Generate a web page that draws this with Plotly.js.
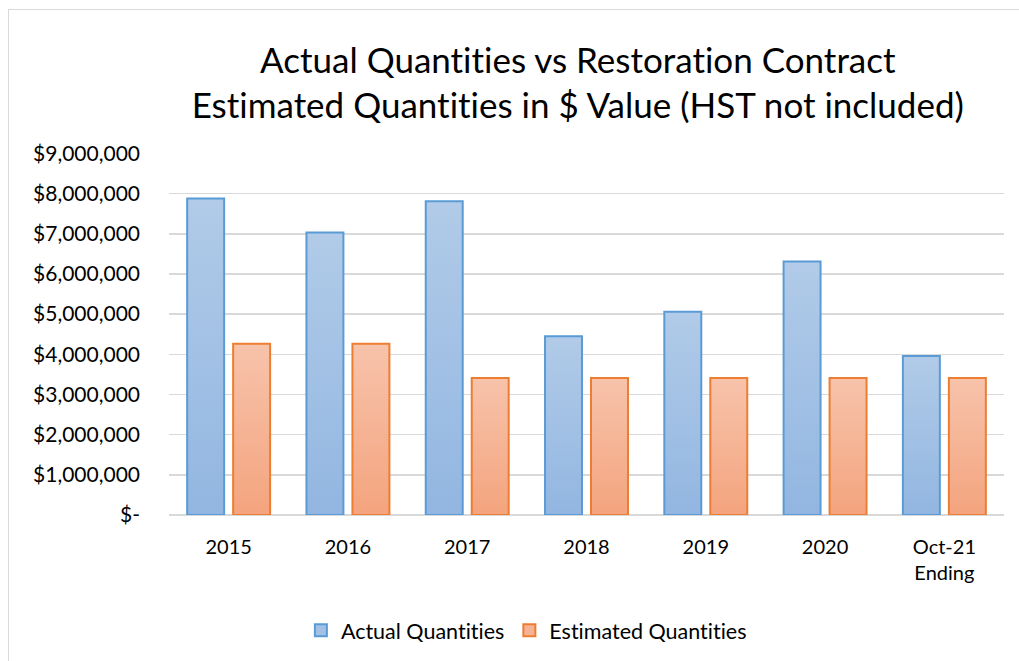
<!DOCTYPE html>
<html>
<head>
<meta charset="utf-8">
<script src="https://cdn.plot.ly/plotly-3.0.1.min.js"></script>
<style>
html,body{margin:0;padding:0;background:#fff;}
#wrap{position:relative;width:1019px;height:661px;overflow:hidden;}
#frame{position:absolute;left:8px;top:9px;width:1030px;height:680px;border:1px solid #d9d9d9;box-sizing:border-box;}
#chart{position:absolute;left:0;top:0;width:1019px;height:661px;}
text{font-variant-ligatures:none;font-feature-settings:"liga" 0;}
</style>
</head>
<body>
<div id="wrap"><div id="frame"></div><div id="chart"></div></div>
<script>
const categories = ['2015', '2016', '2017', '2018', '2019', '2020', 'Oct-21<br>Ending'];
const actualQuantities = [7880000, 7030000, 7810000, 4450000, 5060000, 6310000, 3960000];
const estimatedQuantities = [4260000, 4260000, 3410000, 3410000, 3410000, 3410000, 3410000];
const tickValues = [0, 1000000, 2000000, 3000000, 4000000, 5000000, 6000000, 7000000, 8000000, 9000000];
const tickLabels = ['$-', '$1,000,000', '$2,000,000', '$3,000,000', '$4,000,000', '$5,000,000', '$6,000,000', '$7,000,000', '$8,000,000', '$9,000,000'];

const font = 'Lato, "Open Sans", sans-serif';
const traces = [
  {type: 'bar', name: 'Actual Quantities', x: categories, y: actualQuantities,
   marker: {color: '#a3c0e5', line: {color: '#5b9bd5', width: 2}}},
  {type: 'bar', name: 'Estimated Quantities', x: categories, y: estimatedQuantities,
   marker: {color: '#f5b294', line: {color: '#ed7d31', width: 2}}}
];
const layout = {
  width: 1019, height: 661,
  margin: {l: 169, r: 15, t: 153, b: 145},
  paper_bgcolor: 'rgba(0,0,0,0)', plot_bgcolor: 'rgba(0,0,0,0)',
  title: {text: 'Actual Quantities vs Restoration Contract<br>Estimated Quantities in $ Value (HST not included)',
          font: {family: font, size: 35, color: '#000'}, x: 0.567, xanchor: 'center', y: 0.89, yanchor: 'middle'},
  barmode: 'group', bargap: 0.229, bargroupgap: 0.196,
  showlegend: true,
  legend: {orientation: 'h', x: 0.428, xanchor: 'center', y: -0.315, yanchor: 'middle',
           font: {family: font, size: 21.5, color: '#000'}, itemsizing: 'constant', traceorder: 'normal', itemwidth: 30},
  xaxis: {type: 'category', tickfont: {family: font, size: 20, color: '#000'}, showgrid: false,
          showline: false, zeroline: false, ticks: '', fixedrange: true, ticklabelstandoff: 18},
  yaxis: {range: [0, 9010000], tickvals: tickValues, ticktext: tickLabels,
          tickfont: {family: font, size: 21, color: '#000'}, showgrid: true, gridcolor: '#d9d9d9', gridwidth: 1.5,
          zeroline: true, zerolinecolor: '#d9d9d9', zerolinewidth: 1.5, ticks: '', ticklen: 0, fixedrange: true,
          ticklabelstandoff: 28}
};
Plotly.newPlot('chart', traces, layout, {displayModeBar: false, staticPlot: true}).then(function(gd){
  const svg = gd.querySelector('svg.main-svg');
  const ns = 'http://www.w3.org/2000/svg';
  let defs = svg.querySelector('defs');
  function grad(id, c1, c2){
    const g = document.createElementNS(ns, 'linearGradient');
    g.setAttribute('id', id); g.setAttribute('x1','0'); g.setAttribute('y1','0'); g.setAttribute('x2','0'); g.setAttribute('y2','1');
    const s1 = document.createElementNS(ns, 'stop'); s1.setAttribute('offset','0'); s1.setAttribute('stop-color', c1);
    const s2 = document.createElementNS(ns, 'stop'); s2.setAttribute('offset','1'); s2.setAttribute('stop-color', c2);
    g.appendChild(s1); g.appendChild(s2); defs.appendChild(g);
  }
  grad('gradA', '#b1cbe8', '#92b6e1');
  grad('gradE', '#f7c3ab', '#f4a47e');
  const traceGroups = svg.querySelectorAll('.barlayer .trace');
  traceGroups.forEach(function(tg, i){
    tg.querySelectorAll('path').forEach(function(p){ p.style.fill = 'url(#' + (i === 0 ? 'gradA' : 'gradE') + ')'; });
  });
});
</script>
</body>
</html>
